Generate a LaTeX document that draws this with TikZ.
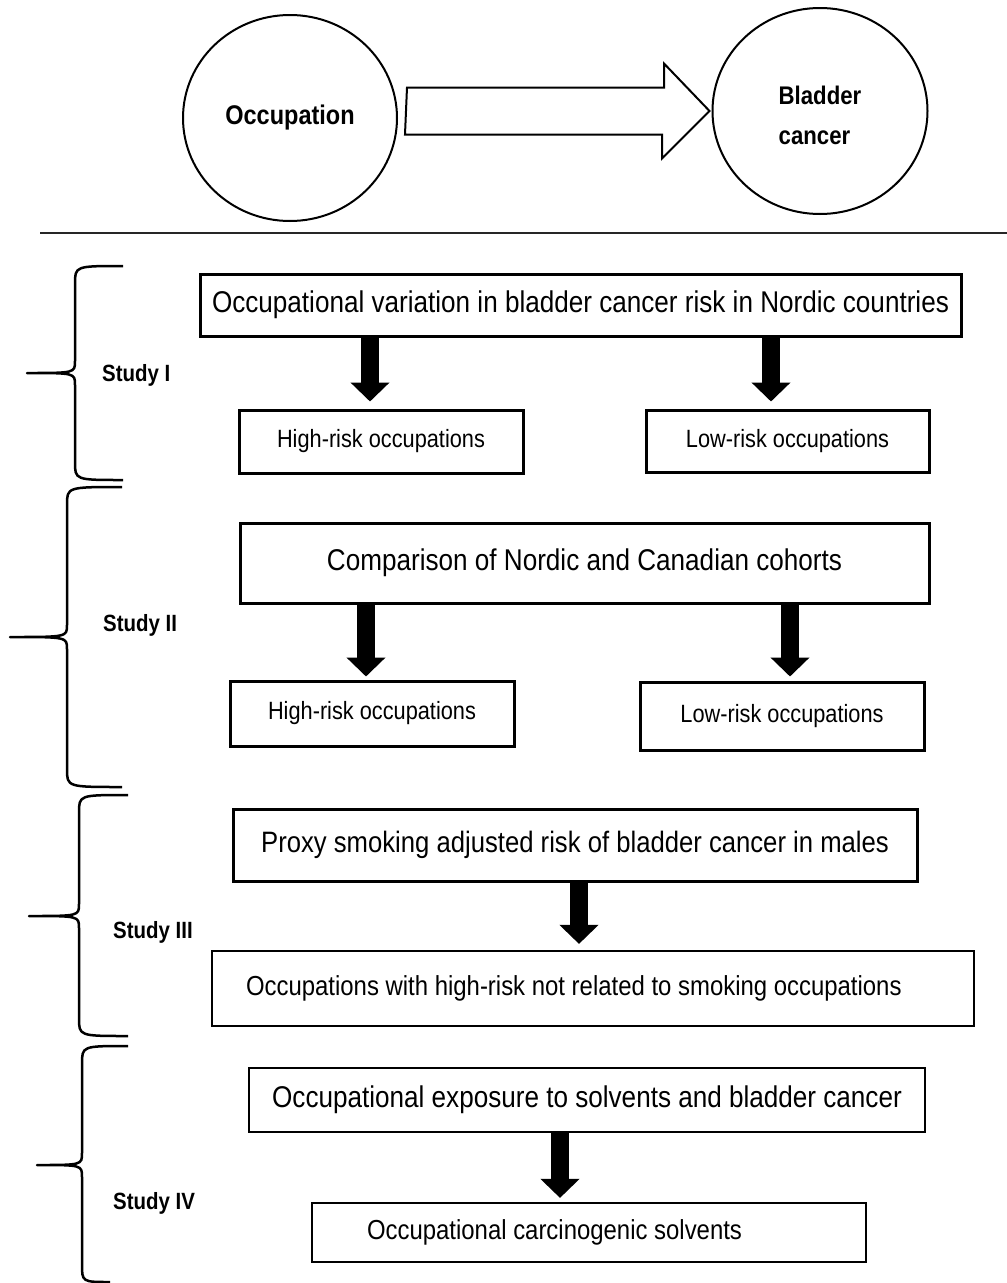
\documentclass[tikz,border=0pt]{standalone}
\usepackage{fontspec}
\setmainfont{Liberation Sans}[FakeStretch=0.87]
\usepackage{tikz}
\usetikzlibrary{positioning, arrows.meta, shapes.geometric, calc}

\begin{document}
\begin{tikzpicture}[x=1pt, y=-1pt,
    every circ/.style={ellipse, draw, line width=2pt, inner sep=0pt, font=\fontsize{27}{32}\selectfont\bfseries},
    every box/.style={rectangle, draw, line width=3pt, inner sep=0pt},
    thin box/.style={every box, line width=2.2pt},
    big text/.style={font=\fontsize{30}{36}\selectfont},
    small text/.style={font=\fontsize{25}{30}\selectfont},
    study label/.style={anchor=west, inner sep=0pt, font=\fontsize{23.5}{28}\selectfont\bfseries},
    down arrow/.style={line width=18pt, -{Triangle[width=38pt, length=19pt]}},
    study brace/.style={line width=2.5pt, line join=round}]

    \useasboundingbox (0,0) rectangle (1007,1283);

    % Occupation -> Bladder cancer
    \node[every circ, minimum width=214pt, minimum height=206pt] (occ) at (290,118) {Occupation};
    \node[every circ, minimum width=215pt, minimum height=206pt, align=flush left,
          font=\fontsize{25.5}{40}\selectfont\bfseries] (bladder) at (820,111) {\\[-12pt]Bladder\\cancer};

    % Hollow block arrow between the two circles
    \draw[line width=2pt, line join=miter]
        ($(occ.east |- bladder.west)+(9,-23.5)$) -- ++(257,0) -- ++(0,-24)
        -- ($(bladder.west)+(-2,0)$) -- ++(-47.5,47.5) -- ++(0,-24) -- ++(-257,0) -- cycle;

    % Separator
    \draw[line width=1.3pt, black!85] (40,233) -- (1007,233);

    % Study I
    \node[every box, big text, minimum width=761pt, minimum height=62pt] (nordic) at (580.5,305) {Occupational variation in bladder cancer risk in Nordic countries};
    \node[every box, small text, minimum width=284pt, minimum height=63pt] (high1) at (381,441.5) {High-risk occupations};
    \node[every box, small text, minimum width=283pt, minimum height=62pt] (low1) at (787.5,441) {Low-risk occupations};

    % Study II
    \node[every box, big text, minimum width=689pt, minimum height=80pt] (compare) at (584.5,563) {Comparison of Nordic and Canadian cohorts};
    \node[every box, small text, minimum width=284pt, minimum height=65pt] (high2) at (372,713.5) {High-risk occupations};
    \node[every box, small text, minimum width=284pt, minimum height=68pt] (low2) at (782,716) {Low-risk occupations};

    % Study III
    \node[every box, font=\fontsize{29.5}{35}\selectfont, minimum width=684pt, minimum height=72pt] (proxy) at (575,845) {Proxy smoking adjusted risk of bladder cancer in males};
    \node[thin box, font=\fontsize{27.5}{33}\selectfont, minimum height=75pt, text width=694pt, inner xsep=34pt, align=flush left] (nonsmoke) at (593,988.5) {Occupations with high-risk not related to smoking occupations};

    % Study IV
    \node[thin box, big text, minimum width=676pt, minimum height=64pt] (solvent) at (587,1100) {Occupational exposure to solvents and bladder cancer};
    \node[thin box, font=\fontsize{27.5}{33}\selectfont, minimum height=59pt, text width=444pt, inner xsep=55pt, align=flush left] (carcino) at (589,1232.5) {Occupational carcinogenic solvents};

    % Down arrows
    \draw[down arrow, shorten >=7pt] ($(high1.north |- nordic.south)+(-11,0)$) -- ($(high1.north)+(-11,0)$);
    \draw[down arrow, shorten >=7pt] ($(low1.north |- nordic.south)+(-16.5,0)$) -- ($(low1.north)+(-16.5,0)$);
    \draw[down arrow, shorten >=3pt] ($(high2.north |- compare.south)+(-6,0)$) -- ($(high2.north)+(-6,0)$);
    \draw[down arrow, shorten >=4pt] ($(low2.north |- compare.south)+(8,0)$) -- ($(low2.north)+(8,0)$);
    \draw[down arrow, shorten >=6pt] ($(nonsmoke.north |- proxy.south)+(-14,0)$) -- ($(nonsmoke.north)+(-14,0)$);
    \draw[down arrow, shorten >=4pt] ($(carcino.north |- solvent.south)+(-29,0)$) -- ($(carcino.north)+(-29,0)$);

    % Braces on the left
    \foreach \tx/\ya/\vx/\cx/\ym/\bx/\yb in {123/266/75/27/373/123/480, 122/487/67/10/637/122/787,
                                              128/795/79/29/916/128/1036, 128/1046/82/37/1165/110/1282}
        \draw[study brace] (\tx,\ya) .. controls (\vx,\ya) .. (\vx,\ya+18) -- (\vx,\ym-12)
            .. controls (\vx,\ym) .. (\cx,\ym) .. controls (\vx,\ym) .. (\vx,\ym+12)
            -- (\vx,\yb-18) .. controls (\vx,\yb) .. (\bx,\yb);

    % Study labels
    \node[study label] (s1) at (102,375) {Study I};
    \node[study label] (s2) at (103,625) {Study II};
    \node[study label] (s3) at (113,932) {Study III};
    \node[study label] (s4) at (113,1203) {Study IV};

\end{tikzpicture}
\end{document}
